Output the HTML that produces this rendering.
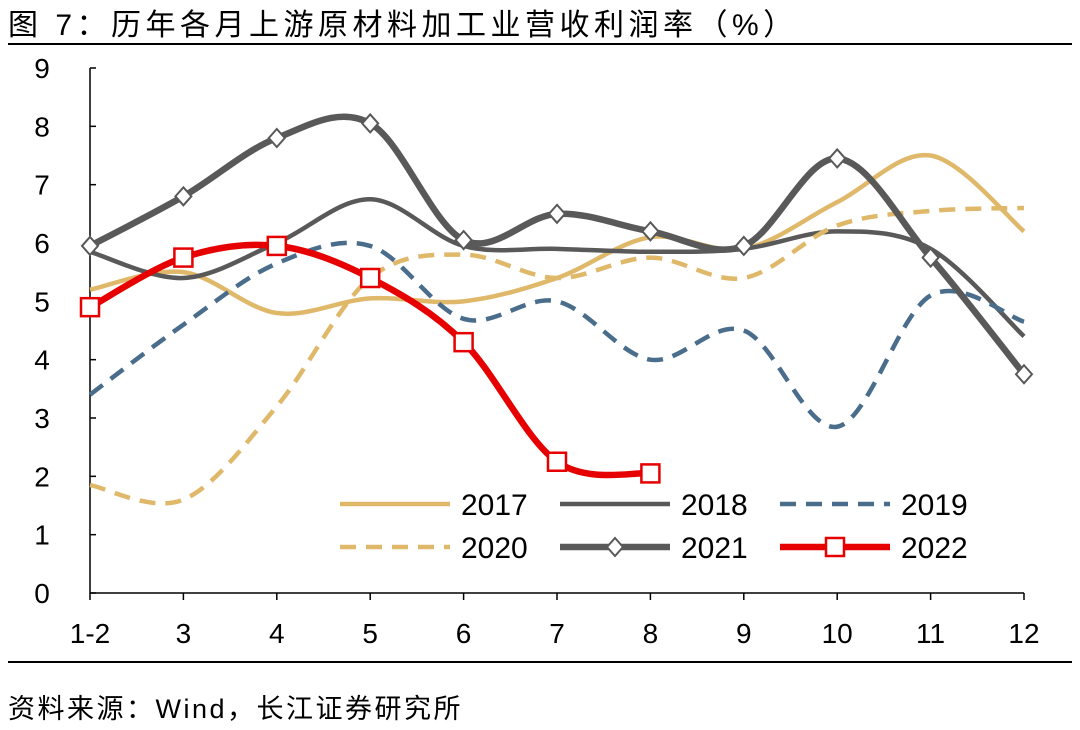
<!DOCTYPE html>
<html><head><meta charset="utf-8"><style>
body{margin:0;background:#fff;width:1080px;height:730px;overflow:hidden;font-family:"Liberation Sans","Noto Sans CJK SC",sans-serif}
svg{position:absolute;left:0;top:0}
</style></head><body>
<svg id="chart" width="1080" height="730" xmlns="http://www.w3.org/2000/svg">
<text x="8" y="35" font-size="30" letter-spacing="4.5" font-family="Liberation Sans, Noto Sans CJK SC, sans-serif" fill="#000">图  7：历年各月上游原材料加工业营收利润率（%）</text>
<line x1="8" y1="44" x2="1072" y2="44" stroke="#000" stroke-width="2"/>
<line x1="8" y1="662" x2="1072" y2="662" stroke="#000" stroke-width="2"/>
<text x="8" y="718" font-size="27" letter-spacing="2.5" font-family="Liberation Sans, Noto Sans CJK SC, sans-serif" fill="#000">资料来源：Wind，长江证券研究所</text>
<g id="plot"></g>
</svg>
<script>
const categories=["1-2","3","4","5","6","7","8","9","10","11","12"];
const yTicks=[0,1,2,3,4,5,6,7,8,9];
const s2017=[5.2,5.5,4.8,5.05,5.0,5.4,6.1,5.9,6.7,7.5,6.2];
const s2018=[5.85,5.4,6.0,6.75,5.95,5.9,5.85,5.9,6.2,5.9,4.4];
const s2019=[3.4,4.6,5.65,5.95,4.7,5.0,4.0,4.5,2.85,5.1,4.65];
const s2020=[1.85,1.6,3.2,5.4,5.8,5.4,5.75,5.4,6.3,6.55,6.6];
const s2021=[5.95,6.8,7.8,8.05,6.05,6.5,6.2,5.95,7.45,5.75,3.75];
const s2022=[4.9,5.75,5.95,5.4,4.3,2.25,2.05];
const NS="http://www.w3.org/2000/svg";
const g=document.getElementById('plot');
const X0=90,X1=1024,Y0=593,Y9=68;
const x=i=>X0+i*(X1-X0)/(categories.length-1);
const y=v=>Y0-v*(Y0-Y9)/9;
function mk(t,a){const e=document.createElementNS(NS,t);for(const k in a)e.setAttribute(k,a[k]);g.appendChild(e);return e;}
let e=mk('line',{x1:X0,y1:Y9,x2:X0,y2:Y0,stroke:'#000','stroke-width':1.5});


e=mk('line',{x1:X0,y1:Y0,x2:X1,y2:Y0,stroke:'#000','stroke-width':1.5});


yTicks.forEach(v=>{
 mk('line',{x1:X0,y1:y(v),x2:X0+6,y2:y(v),stroke:'#000','stroke-width':1.5});
 const t=mk('text',{x:42,y:y(v)+10,'font-size':28,'text-anchor':'middle'});t.textContent=v;
 
 
});
categories.forEach((c,i)=>{
 mk('line',{x1:x(i),y1:Y0,x2:x(i),y2:Y0+7,stroke:'#000','stroke-width':1.5});
 const t=mk('text',{x:x(i),y:643,'font-size':28,'text-anchor':'middle'});t.textContent=c;
 
 
});
function path(vals){
 const p=vals.map((v,i)=>[x(i),y(v)]);
 let d=`M${p[0][0]},${p[0][1]}`;
 for(let i=0;i<p.length-1;i++){
  const a=p[i-1]||p[i],b=p[i],c=p[i+1],n=p[i+2]||c;
  d+=` C${b[0]+(c[0]-a[0])/6},${b[1]+(c[1]-a[1])/6} ${c[0]-(n[0]-b[0])/6},${c[1]-(n[1]-b[1])/6} ${c[0]},${c[1]}`;
 }
 return d;
}
const series=[
 {n:'2017',v:s2017,c:'#e0b86a',w:4.5,da:''},
 {n:'2018',v:s2018,c:'#595959',w:4.5,da:''},
 {n:'2019',v:s2019,c:'#4a6d8c',w:4.5,da:'16,10'},
 {n:'2020',v:s2020,c:'#e0b86a',w:4.5,da:'16,10'},
 {n:'2021',v:s2021,c:'#595959',w:6.5,da:'',m:'d'},
 {n:'2022',v:s2022,c:'#e60000',w:6.5,da:'',m:'s'}
];
series.forEach((s,k)=>{
 const p=mk('path',{d:path(s.v),fill:'none',stroke:s.c,'stroke-width':s.w,'stroke-dasharray':s.da});
 
 
 s.v.forEach((v,i)=>{
  if(s.m==='d'){const cx=x(i),cy=y(v);const m=mk('path',{d:`M${cx},${cy-9}L${cx+8},${cy}L${cx},${cy+9}L${cx-8},${cy}Z`,fill:'#fff',stroke:s.c,'stroke-width':2});
   
   }
  if(s.m==='s'){const m=mk('rect',{x:x(i)-9,y:y(v)-9,width:18,height:18,fill:'#fff',stroke:s.c,'stroke-width':2.5});
   
   }
 });
 const lx=340+(k%3)*220,ly=k<3?504:547;
 const l=mk('line',{x1:lx,y1:ly,x2:lx+110,y2:ly,stroke:s.c,'stroke-width':s.w,'stroke-dasharray':s.da});
 
 
 if(s.m==='d'){const cx=lx+55,cy=ly;mk('path',{d:`M${cx},${cy-9}L${cx+8},${cy}L${cx},${cy+9}L${cx-8},${cy}Z`,fill:'#fff',stroke:s.c,'stroke-width':2});}
 if(s.m==='s'){mk('rect',{x:lx+46,y:ly-9,width:18,height:18,fill:'#fff',stroke:s.c,'stroke-width':2.5});}
 const t=mk('text',{x:lx+121,y:ly+11,'font-size':30});t.textContent=s.n;
 
 
});
</script>
</body></html>
